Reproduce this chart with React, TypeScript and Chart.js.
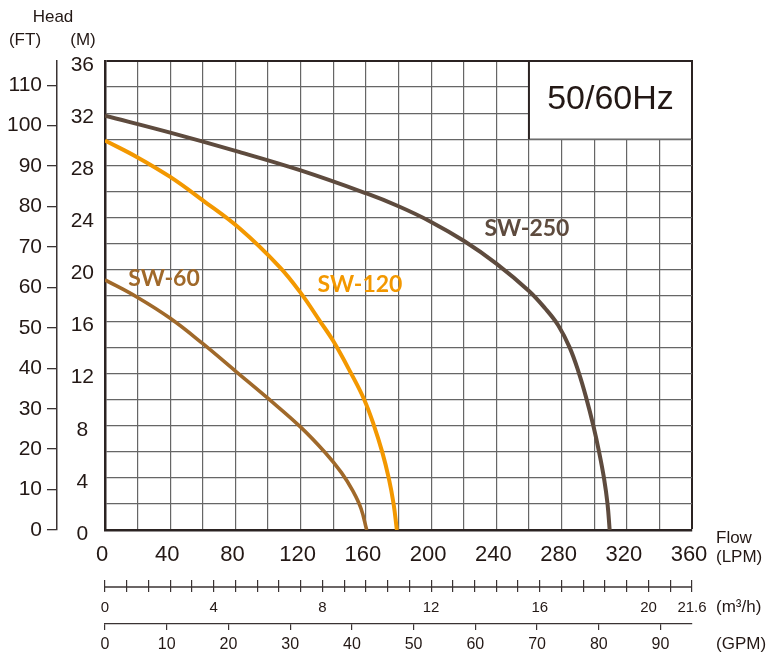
import React, { useEffect, useRef } from 'react';
import { Chart, registerables } from 'chart.js';

Chart.register(...registerables);

// ---- axis ranges ----
const FLOW_LPM_MAX = 360;
const HEAD_M_MAX = 36;
const HEAD_FT_MAX = 116;
const FLOW_M3H_MAX = 21.6;
const FLOW_GPM_MAX = 95.1;

// ---- tick labels ----
const LPM_TICK_LABELS = [0, 40, 80, 120, 160, 200, 240, 280, 320, 360];
const M_TICK_LABELS = [0, 4, 8, 12, 16, 20, 24, 28, 32, 36];
const M3H_TICK_LABELS = [0, 4, 8, 12, 16, 20, 21.6];
const M3H_MINOR_STEP = 0.8;
const GPM_STEP = 10;
const FT_STEP = 10;

// ---- series ----
const SW250_FLOW = [0, 40, 80, 120, 160, 180, 200, 220, 240, 260, 270, 278, 285, 290.5, 295, 299.5, 303, 306, 308.2, 309.5];
const SW250_HEAD = [31.8, 30.5, 29.1, 27.6, 25.85, 24.85, 23.65, 22.2, 20.45, 18.35, 17.0, 15.7, 14.0, 12.1, 10.2, 8.0, 6.0, 4.0, 2.0, 0];

const SW120_FLOW = [0, 20, 40, 60, 83, 107, 120, 132, 140, 151, 159, 165, 170, 174, 177, 179];
const SW120_HEAD = [29.9, 28.6, 27.1, 25.3, 23.1, 20.2, 18.2, 16.0, 14.5, 12.0, 10.0, 8.0, 6.0, 4.0, 2.0, 0];

const SW60_FLOW = [0, 20, 40, 60, 80, 100, 120, 135, 145, 152, 157, 160.5];
const SW60_HEAD = [19.2, 17.85, 16.25, 14.3, 12.2, 10.1, 7.9, 5.95, 4.4, 3.0, 1.65, 0];

const SERIES_NAMES = ['SW-250', 'SW-120', 'SW-60'];
const SERIES_COLORS = ['#5e4b3e', '#f39800', '#a0692a'];

// label anchors (data units)
const LABEL_FLOW = [258.8, 156.4, 36.2];
const LABEL_HEAD = [23.1, 18.8, 19.3];

// info box (data units)
const BOX_FLOW = [260, 360];
const BOX_HEAD = [30, 36];
const BOX_TEXT = '50/60Hz';

const TEXT = '#231815';
const FRAME = '#2b2322';
const GRID = '#666666';
const AXIS = '#3a3333';
const FONT = '"Liberation Sans", Arial, Helvetica, sans-serif';

const near = (list: number[], v: number) => list.some((l) => Math.abs(l - v) < 1e-6);

const toPoints = (xs: number[], ys: number[]) => xs.map((x, i) => ({ x, y: ys[i] }));

const overlayPlugin = {
  id: 'overlay',
  beforeDatasetsDraw(chart: any) {
    const { ctx, scales } = chart;
    const x = scales.x;
    const y = scales.y;
    const l = x.getPixelForValue(BOX_FLOW[0]);
    const r = x.getPixelForValue(BOX_FLOW[1]);
    const t = y.getPixelForValue(BOX_HEAD[1]);
    const b = y.getPixelForValue(BOX_HEAD[0]);
    ctx.save();
    ctx.fillStyle = '#ffffff';
    ctx.fillRect(l, t, r - l, b - t);
    ctx.strokeStyle = GRID;
    ctx.lineWidth = 1.2;
    ctx.beginPath();
    ctx.moveTo(l, b);
    ctx.lineTo(r, b);
    ctx.stroke();
    ctx.strokeStyle = FRAME;
    ctx.lineWidth = 2;
    ctx.beginPath();
    ctx.moveTo(l, b);
    ctx.lineTo(l, t);
    ctx.lineTo(r, t);
    ctx.lineTo(r, b);
    ctx.stroke();
    ctx.fillStyle = TEXT;
    ctx.font = `34px ${FONT}`;
    ctx.textAlign = 'center';
    ctx.textBaseline = 'middle';
    ctx.fillText(BOX_TEXT, (l + r) / 2, (t + b) / 2);
    ctx.restore();
  },
  afterDatasetsDraw(chart: any) {
    const { ctx, scales } = chart;
    ctx.save();
    ctx.font = `bold 23px Lato, "DejaVu Sans", sans-serif`;
    ctx.textAlign = 'center';
    ctx.textBaseline = 'middle';
    SERIES_NAMES.forEach((name, i) => {
      ctx.fillStyle = SERIES_COLORS[i];
      ctx.fillText(name, scales.x.getPixelForValue(LABEL_FLOW[i]), scales.y.getPixelForValue(LABEL_HEAD[i]));
    });
    ctx.restore();
  },
  afterDraw(chart: any) {
    const { ctx, scales } = chart;
    const s2 = scales.x2;
    ctx.save();
    // m3/h axis line crossing the tick marks
    ctx.strokeStyle = AXIS;
    ctx.lineWidth = 1.3;
    ctx.beginPath();
    ctx.moveTo(s2.left, s2.top + 7);
    ctx.lineTo(s2.right, s2.top + 7);
    ctx.stroke();

    ctx.fillStyle = TEXT;
    ctx.font = `17px ${FONT}`;
    ctx.textBaseline = 'middle';
    ctx.textAlign = 'center';
    ctx.fillText('Head', 53, 17);
    ctx.fillText('(FT)', 25, 40);
    ctx.fillText('(M)', 83, 40);
    ctx.textAlign = 'left';
    const tx = scales.x.right + 24;
    ctx.fillText('Flow', tx, 538);
    ctx.fillText('(LPM)', tx, 557);
    ctx.fillText('(m\u00B3/h)', tx, 607);
    ctx.fillText('(GPM)', tx, 644);
    ctx.restore();
  },
};

export default function App() {
  const canvasRef = useRef<HTMLCanvasElement | null>(null);

  useEffect(() => {
    const canvas = canvasRef.current;
    if (!canvas) return;
    const chart = new Chart(canvas, {
      type: 'line',
      data: {
        datasets: [
          { label: SERIES_NAMES[0], data: toPoints(SW250_FLOW, SW250_HEAD), borderColor: SERIES_COLORS[0], borderWidth: 4 },
          { label: SERIES_NAMES[1], data: toPoints(SW120_FLOW, SW120_HEAD), borderColor: SERIES_COLORS[1], borderWidth: 4 },
          { label: SERIES_NAMES[2], data: toPoints(SW60_FLOW, SW60_HEAD), borderColor: SERIES_COLORS[2], borderWidth: 3.6 },
        ].map((d) => ({ ...d, pointRadius: 0, fill: false, tension: 0.4, borderCapStyle: 'butt' as const, xAxisID: 'x', yAxisID: 'y' })),
      },
      options: {
        animation: false,
        responsive: false,
        events: [],
        elements: { line: { tension: 0.4 } },
        layout: { padding: { left: 0, right: 76, top: 61, bottom: 0 } },
        plugins: { legend: { display: false }, tooltip: { enabled: false } },
        scales: {
          x: {
            type: 'linear',
            position: 'bottom',
            min: 0,
            max: FLOW_LPM_MAX,
            afterFit: (s: any) => { s.height = 50; },
            grid: {
              drawTicks: false,
              color: (c: any) => (c.tick && c.tick.value === FLOW_LPM_MAX ? FRAME : GRID),
              lineWidth: (c: any) => (c.tick && c.tick.value === FLOW_LPM_MAX ? 2 : 1.2),
            },
            border: { display: true, color: FRAME, width: 2.5 },
            ticks: {
              stepSize: 20,
              autoSkip: false,
              maxRotation: 0,
              minRotation: 0,
              padding: 12,
              labelOffset: -3,
              color: TEXT,
              font: { family: FONT, size: 22 },
              callback: (v: any) => (near(LPM_TICK_LABELS, Number(v)) ? String(v) : ''),
            },
          },
          x2: {
            type: 'linear',
            position: 'bottom',
            min: 0,
            max: FLOW_M3H_MAX,
            afterFit: (s: any) => { s.height = 44; },
            afterBuildTicks: (s: any) => {
              const n = Math.round(FLOW_M3H_MAX / M3H_MINOR_STEP);
              s.ticks = Array.from({ length: n + 1 }, (_, i) => ({ value: Math.round(i * M3H_MINOR_STEP * 10) / 10 }));
            },
            grid: { drawOnChartArea: false, drawTicks: true, tickLength: 12, color: AXIS, lineWidth: 1.2 },
            border: { display: false },
            ticks: {
              autoSkip: false,
              maxRotation: 0,
              minRotation: 0,
              padding: 7,
              color: TEXT,
              font: { family: FONT, size: 15 },
              callback: (v: any) => (near(M3H_TICK_LABELS, Number(v)) ? String(v) : ''),
            },
          },
          x3: {
            type: 'linear',
            position: 'bottom',
            min: 0,
            max: FLOW_GPM_MAX,
            afterFit: (s: any) => { s.height = 31; },
            grid: { drawOnChartArea: false, drawTicks: true, tickLength: 6, color: AXIS, lineWidth: 1.2 },
            border: { display: true, color: AXIS, width: 1.3 },
            ticks: {
              stepSize: GPM_STEP,
              includeBounds: false,
              autoSkip: false,
              maxRotation: 0,
              minRotation: 0,
              padding: 5,
              color: TEXT,
              font: { family: FONT, size: 16 },
            },
          },
          y: {
            type: 'linear',
            position: 'left',
            min: 0,
            max: HEAD_M_MAX,
            afterFit: (s: any) => { s.width = 48; },
            grid: {
              drawTicks: false,
              color: (c: any) => (c.tick && c.tick.value === HEAD_M_MAX ? FRAME : GRID),
              lineWidth: (c: any) => (c.tick && c.tick.value === HEAD_M_MAX ? 2 : 1.2),
            },
            border: { display: true, color: FRAME, width: 2.5 },
            ticks: {
              stepSize: 2,
              autoSkip: false,
              crossAlign: 'center',
              padding: 11,
              labelOffset: 4,
              color: TEXT,
              font: { family: FONT, size: 21 },
              callback: (v: any) => (near(M_TICK_LABELS, Number(v)) ? String(v) : ''),
            },
          },
          y2: {
            type: 'linear',
            position: 'left',
            min: 0,
            max: HEAD_FT_MAX,
            afterFit: (s: any) => { s.width = 57; },
            grid: { drawOnChartArea: false, drawTicks: true, tickLength: 10, color: AXIS, lineWidth: 1.3 },
            border: { display: true, color: AXIS, width: 1.5 },
            ticks: {
              stepSize: FT_STEP,
              includeBounds: false,
              autoSkip: false,
              padding: 5,
              color: TEXT,
              font: { family: FONT, size: 21 },
            },
          },
        },
      } as any,
      plugins: [overlayPlugin],
    });
    return () => chart.destroy();
  }, []);

  return (
    <div style={{ position: 'absolute', left: 0, top: 0, width: 768, height: 655, background: '#fff' }}>
      <canvas ref={canvasRef} width={768} height={655} style={{ width: 768, height: 655, display: 'block' }} />
    </div>
  );
}
